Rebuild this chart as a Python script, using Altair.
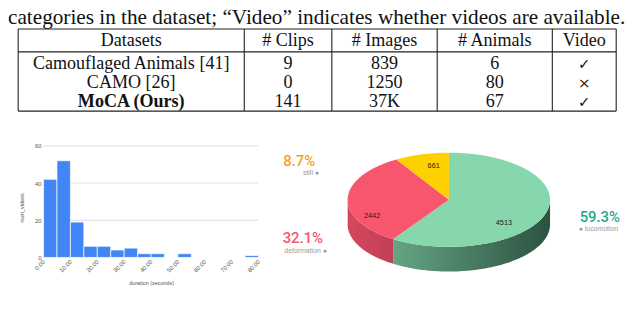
import math
import altair as alt
import pandas as pd

# ---------------- data ----------------
CAPTION = "categories in the dataset; \u201cVideo\u201d indicates whether videos are available."
TABLE_HEADERS = ["Datasets", "# Clips", "# Images", "# Animals", "Video"]
DATASETS = ["Camouflaged Animals [41]", "CAMO [26]", "MoCA (Ours)"]
CLIPS = ["9", "0", "141"]
IMAGES = ["839", "1250", "37K"]
ANIMALS = ["6", "80", "67"]
VIDEO = ["\u2713", "\u00d7", "\u2713"]

BIN_STARTS = [0, 5, 10, 15, 20, 25, 30, 35, 40, 45, 50, 55, 60, 65, 70, 75]
NUM_VIDEOS = [42, 52, 19, 6, 6, 4, 5, 2, 2, 0, 2, 0, 0, 0, 0, 1]
X_TICKS = [0, 5, 10, 15, 20, 25, 30, 35, 40, 45, 50, 55, 60, 65, 70, 75, 80]
Y_TICKS = [0, 20, 40, 60]

MOTION_TYPES = ["locomotion", "deformation", "still"]
MOTION_FRAMES = [4513, 2442, 661]

# ---------------- layout / style ----------------
W, H = 632, 301
SERIF = "Liberation Serif"
SANS = "Liberation Sans"

TABLE_LEFT = 10.3
TABLE_COL_WIDTHS = [229.0, 88.7, 106.7, 116.6, 64.7]
TABLE_TOP, TABLE_HEADER_BOTTOM, TABLE_BOTTOM = 19.3, 42.5, 102.5
TABLE_BASELINES = [37, 59.5, 79, 98]
CAPTION_FONT = 21.5
TABLE_FONT = 18.3

HIST_X_RANGE = [36, 253.7]
HIST_Y_RANGE = [250.7, 137.7]

PIE_CX, PIE_CY, PIE_RX, PIE_RY, PIE_DEPTH = 446.5, 192.3, 102.5, 47.7, 25
TOP_COLORS = {"locomotion": "#86d8ac", "deformation": "#f8566e", "still": "#ffd000"}
PCT_COLORS = {"locomotion": "#1ea78b", "deformation": "#f5566f", "still": "#f6a11b"}
VALUE_LABEL_K = 0.7
VALUE_LABEL_NUDGE = {"locomotion": (-13, 14), "deformation": (-6, 17.5), "still": (4, -2)}
OUTER_LABEL_POS = {"still": (311, 153, "right"), "deformation": (319, 231.5, "right"),
                   "locomotion": (579, 209.5, "left")}

# ---------------- caption + table ----------------
caption = alt.Chart(pd.DataFrame({"t": [CAPTION], "px": [0.0], "py": [13.8]})).mark_text(
    font=SERIF, fontSize=CAPTION_FONT, align="left", baseline="alphabetic", color="#111"
).encode(x=alt.X("px:Q", scale=None), y=alt.Y("py:Q", scale=None), text="t:N")

edges = [TABLE_LEFT]
for w in TABLE_COL_WIDTHS:
    edges.append(edges[-1] + w)
centers = [(edges[i] + edges[i + 1]) / 2 for i in range(len(TABLE_COL_WIDTHS))]
columns = [DATASETS, CLIPS, IMAGES, ANIMALS, VIDEO]
cells = []
for j, h in enumerate(TABLE_HEADERS):
    cells.append(dict(px=centers[j], py=TABLE_BASELINES[0], t=h, kind="reg"))
for i in range(len(DATASETS)):
    for j, col in enumerate(columns):
        if j == 0 and DATASETS[i].startswith("MoCA"):
            kind = "bold"
        elif j == len(columns) - 1:
            kind = "sym"
        else:
            kind = "reg"
        cells.append(dict(px=centers[j], py=TABLE_BASELINES[i + 1], t=col[i], kind=kind))
cells_df = pd.DataFrame(cells)

cell_base = alt.Chart(cells_df).encode(
    x=alt.X("px:Q", scale=None), y=alt.Y("py:Q", scale=None), text="t:N")
cells_reg = cell_base.transform_filter("datum.kind == 'reg'").mark_text(
    font=SERIF, fontSize=TABLE_FONT, baseline="alphabetic", color="#111")
cells_bold = cell_base.transform_filter("datum.kind == 'bold'").mark_text(
    font=SERIF, fontSize=TABLE_FONT, fontWeight="bold", baseline="alphabetic", color="#111")
cells_sym = cell_base.transform_filter("datum.kind == 'sym'").mark_text(
    font="DejaVu Sans", fontSize=15, baseline="alphabetic", color="#111")

lines = []
for yv in [TABLE_TOP, TABLE_HEADER_BOTTOM, TABLE_BOTTOM]:
    lines.append(dict(x1=edges[0], x2=edges[-1], y1=yv, y2=yv))
for xv in edges:
    lines.append(dict(x1=xv, x2=xv, y1=TABLE_TOP, y2=TABLE_BOTTOM))
table_lines = alt.Chart(pd.DataFrame(lines)).mark_rule(color="#222", strokeWidth=1.1).encode(
    x=alt.X("x1:Q", scale=None), x2="x2:Q", y=alt.Y("y1:Q", scale=None), y2="y2:Q")

# ---------------- histogram ----------------
hist_df = pd.DataFrame({"start": BIN_STARTS, "end": [s + 5 for s in BIN_STARTS],
                        "base": [0] * len(BIN_STARTS), "count": NUM_VIDEOS})
xs = alt.Scale(domain=[0, 80], range=HIST_X_RANGE, nice=False, zero=False)
ys = alt.Scale(domain=[0, 60], range=HIST_Y_RANGE, nice=False)

bars = alt.Chart(hist_df).mark_bar(color="#4285f4", stroke="white", strokeWidth=0.7).encode(
    x=alt.X("start:Q", scale=xs, axis=alt.Axis(
        orient="bottom", offset=-(H - HIST_Y_RANGE[0]), values=X_TICKS, format=".2f",
        labelAngle=-45, labelAlign="right", labelBaseline="middle", labelFontSize=6,
        labelColor="#555", labelFont=SANS, labelPadding=3, labelOverlap=False, labelFlush=False,
        domain=False, ticks=False, grid=False,
        title="duration (seconds)", titleFontSize=5.5, titleColor="#555", titleFont=SANS,
        titleFontWeight="normal", titleX=145, titleY=25.5, titleAlign="center",
        titleBaseline="middle")),
    x2="end:Q",
    y=alt.Y("count:Q", scale=ys, axis=alt.Axis(
        orient="left", offset=-HIST_X_RANGE[0], values=Y_TICKS, labelFontSize=6,
        labelColor="#555", labelFont=SANS, labelPadding=2.5, domain=False, ticks=False, grid=False,
        title="num_videos", titleFontSize=5.5, titleColor="#555", titleFont=SANS,
        titleFontWeight="normal", titleX=-22, titleY=200, titleAngle=-90, titleAlign="center",
        titleBaseline="middle")),
    y2="base:Q",
)
grid_df = pd.DataFrame({"v": Y_TICKS[1:], "x0": [0] * 3, "x1": [80] * 3})
grid = alt.Chart(grid_df).mark_rule(color="#d6d6d6", strokeWidth=0.8).encode(
    y=alt.Y("v:Q", scale=ys),
    x=alt.X("x0:Q", scale=xs),
    x2="x1:Q",
)
hist = alt.layer(grid, bars)

# ---------------- 3D pie ----------------
total = float(sum(MOTION_FRAMES))
E = PIE_RY / PIE_RX
D = PIE_DEPTH / PIE_RX
SIZE = (2 * PIE_RX) ** 2


def pt(theta, dy=0.0):
    t = math.radians(theta)
    return math.sin(t), -math.cos(t) * E + dy


def arc_pts(a, b, dy=0.0):
    n = max(2, int(abs(b - a)) + 1)
    return [pt(a + (b - a) * k / (n - 1), dy) for k in range(n)]


def path(points, start_center=False):
    s = "M0,0" if start_center else ""
    for k, (x, y) in enumerate(points):
        s += ("L" if (k or start_center) else "M") + f"{x:.4f},{y:.4f}"
    return s + "Z"


angles = []
acc = 0.0
for v in MOTION_FRAMES:
    a = acc
    acc += 360.0 * v / total
    angles.append((a, acc))

tops, sides, values, outer = [], {}, [], []
for name, v, (a, b) in zip(MOTION_TYPES, MOTION_FRAMES, angles):
    tops.append(dict(px=PIE_CX, py=PIE_CY, shape=path(arc_pts(a, b), True), fill=TOP_COLORS[name]))
    lo, hi = max(a, 90.0), min(b, 270.0)
    if lo < hi:
        pts = arc_pts(lo, hi) + arc_pts(hi, lo, D)
        sides[name] = pd.DataFrame([dict(px=PIE_CX, py=PIE_CY, shape=path(pts))])
    mid = (a + b) / 2
    mx, my = pt(mid)
    nx, ny = VALUE_LABEL_NUDGE[name]
    values.append(dict(px=PIE_CX + VALUE_LABEL_K * mx * PIE_RX + nx,
                       py=PIE_CY + VALUE_LABEL_K * my * PIE_RX + ny, t=str(v)))
    ox, oy, al = OUTER_LABEL_POS[name]
    pct = f"{100.0 * v / total:.1f}%"
    sub = f"{name} \u25cf" if al == "right" else f"\u25cf {name}"
    outer.append(dict(px=ox, py=oy, t=pct, col=PCT_COLORS[name], al=al,
                      sx=ox + (4 if al == "right" else -1), sy=oy + 12.5, st=sub))

pie_layers = []
SIDE_GRADIENTS = {
    "locomotion": ["#64a583", "#2c5241"],
    "deformation": ["#d4475f", "#c13f55"],
}
for name, df in sides.items():
    c0, c1 = SIDE_GRADIENTS[name]
    pie_layers.append(alt.Chart(df).mark_point(
        filled=True, opacity=1, strokeWidth=0,
        fill=alt.Gradient(gradient="linear", x1=0, x2=1, y1=0, y2=0,
                          stops=[alt.GradientStop(color=c0, offset=0),
                                 alt.GradientStop(color=c1, offset=1)])
    ).encode(x=alt.X("px:Q", scale=None), y=alt.Y("py:Q", scale=None),
             shape=alt.Shape("shape:N", scale=None), size=alt.value(SIZE)))

pie_layers.append(alt.Chart(pd.DataFrame(tops)).mark_point(filled=True, opacity=1, strokeWidth=0).encode(
    x=alt.X("px:Q", scale=None), y=alt.Y("py:Q", scale=None),
    shape=alt.Shape("shape:N", scale=None), fill=alt.Fill("fill:N", scale=None),
    size=alt.value(SIZE)))

pie_layers.append(alt.Chart(pd.DataFrame(values)).mark_text(
    font=SANS, fontSize=7.5, color="#222").encode(
    x=alt.X("px:Q", scale=None), y=alt.Y("py:Q", scale=None), text="t:N"))

outer_df = pd.DataFrame(outer)
for al in ["right", "left"]:
    sub_df = outer_df[outer_df["al"] == al]
    pie_layers.append(alt.Chart(sub_df).mark_text(
        font="Roboto", fontSize=15, fontWeight=500, align=al, baseline="middle").encode(
        x=alt.X("px:Q", scale=None), y=alt.Y("py:Q", scale=None), text="t:N",
        color=alt.Color("col:N", scale=None)))
    pie_layers.append(alt.Chart(sub_df).mark_text(
        font=SANS, fontSize=7, align=al, baseline="middle", color="#9a9a9a").encode(
        x=alt.X("sx:Q", scale=None), y=alt.Y("sy:Q", scale=None), text="st:N"))

chart = alt.layer(
    caption, table_lines, cells_reg, cells_bold, cells_sym, hist, *pie_layers
).resolve_scale(
    x="independent", y="independent", color="independent", fill="independent",
    shape="independent", size="independent"
).properties(
    width=W, height=H, padding=0, autosize="none", background="white"
).configure_view(stroke=None)

chart.save("out.html", embed_options={"renderer": "svg", "actions": False})
